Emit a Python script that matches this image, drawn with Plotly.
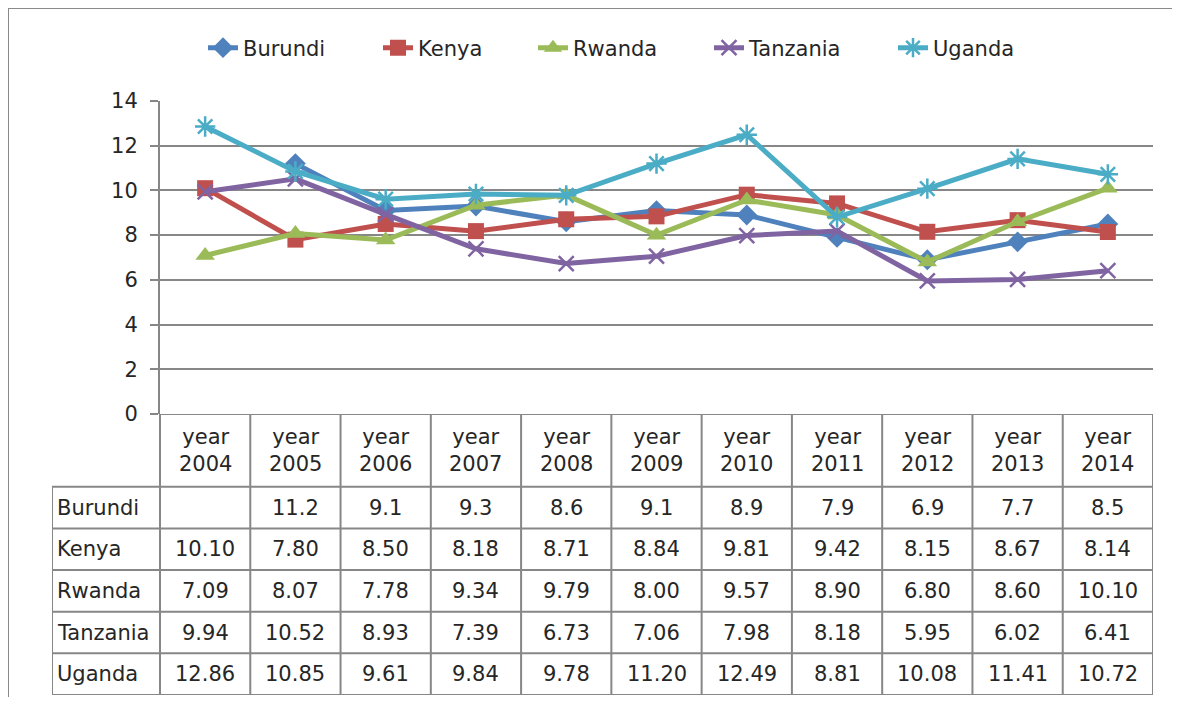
import plotly.graph_objects as go

categories = ["year 2004", "year 2005", "year 2006", "year 2007", "year 2008", "year 2009",
              "year 2010", "year 2011", "year 2012", "year 2013", "year 2014"]
series_names = ["Burundi", "Kenya", "Rwanda", "Tanzania", "Uganda"]
burundi = [None, 11.2, 9.1, 9.3, 8.6, 9.1, 8.9, 7.9, 6.9, 7.7, 8.5]
kenya = [10.10, 7.80, 8.50, 8.18, 8.71, 8.84, 9.81, 9.42, 8.15, 8.67, 8.14]
rwanda = [7.09, 8.07, 7.78, 9.34, 9.79, 8.00, 9.57, 8.90, 6.80, 8.60, 10.10]
tanzania = [9.94, 10.52, 8.93, 7.39, 6.73, 7.06, 7.98, 8.18, 5.95, 6.02, 6.41]
uganda = [12.86, 10.85, 9.61, 9.84, 9.78, 11.20, 12.49, 8.81, 10.08, 11.41, 10.72]
decimals = [1, 2, 2, 2, 2]
y_ticks = [0, 2, 4, 6, 8, 10, 12, 14]

series_values = [burundi, kenya, rwanda, tanzania, uganda]
colors = ["#4F81BD", "#C0504D", "#9BBB59", "#8064A2", "#4BACC6"]
symbols = ["diamond", "square", "triangle-up", "x-thin-open", "asterisk-open"]
msizes = [16, 16, 17, 15, 17]
legend_text_left = [243, 418, 573, 749, 933]

OFF = 8                      # page body margin
W, H = 1180 - 2 * OFF, 705 - 2 * OFF
FONT = "DejaVu Sans"
TXT = "#262626"
GRID = "#878787"


def px_x(p):
    return (p - OFF) / W


def px_y(p):
    return 1 - (p - OFF) / H


n = len(categories)
xi = list(range(n))
plot_left, plot_right, plot_top, plot_bottom = 160, 1153, 101, 414
label_left, table_bottom = 52, 695
col_w = (plot_right - plot_left) / n
label_cols = (plot_left - label_left) / col_w
header_rows = 1.75
nrows = len(series_names)

fig = go.Figure()
legend_names = ["legend", "legend2", "legend3", "legend4", "legend5"]
for name, vals, c, s, ms, lg in zip(series_names, series_values, colors, symbols, msizes, legend_names):
    open_sym = s.endswith("open")
    fig.add_trace(go.Scatter(
        x=xi, y=vals, name=name, mode="lines+markers", legend=lg,
        line=dict(color=c, width=5),
        marker=dict(symbol=s, size=ms, color=c,
                    line=dict(color=c, width=2.5 if open_sym else 0)),
        connectgaps=False,
    ))

fig.add_trace(go.Scatter(x=[None], y=[None], xaxis="x2", yaxis="y2", showlegend=False))

shapes = []
shapes.append(dict(type="rect", xref="paper", yref="paper",
                   x0=px_x(8), x1=px_x(1200), y0=px_y(730), y1=px_y(8),
                   line=dict(color="#8a8a8a", width=2), layer="below"))
for k in range(n + 1):
    b = k - 0.5
    shapes.append(dict(type="line", xref="x2", yref="y2", x0=b, x1=b,
                       y0=-header_rows, y1=nrows, line=dict(color=GRID, width=2)))
shapes.append(dict(type="line", xref="x2", yref="y2", x0=-0.5 - label_cols, x1=-0.5 - label_cols,
                   y0=0, y1=nrows, line=dict(color=GRID, width=2)))
for r in range(nrows + 1):
    shapes.append(dict(type="line", xref="x2", yref="y2", x0=-0.5 - label_cols, x1=n - 0.5,
                       y0=r, y1=r, line=dict(color=GRID, width=2)))
shapes.append(dict(type="line", xref="x2", yref="y2", x0=-0.5, x1=n - 0.5,
                   y0=-header_rows, y1=-header_rows, line=dict(color=GRID, width=2)))

TF = 21
annotations = []
for k, cat in enumerate(categories):
    annotations.append(dict(xref="x2", yref="y2", x=k, y=-header_rows / 2,
                            text=cat.replace(" ", "<br>"), showarrow=False,
                            font=dict(family=FONT, size=TF, color=TXT), align="center"))
for r, (name, vals, d) in enumerate(zip(series_names, series_values, decimals)):
    annotations.append(dict(xref="x2", yref="y2", x=-0.5 - label_cols + 0.03, y=r + 0.5,
                            text=name, showarrow=False, xanchor="left",
                            font=dict(family=FONT, size=TF, color=TXT)))
    for k, v in enumerate(vals):
        if v is None:
            continue
        annotations.append(dict(xref="x2", yref="y2", x=k, y=r + 0.5,
                                text=f"{v:.{d}f}", showarrow=False,
                                font=dict(family=FONT, size=TF, color=TXT)))

layout_legends = {}
for lg, tx in zip(legend_names, legend_text_left):
    layout_legends[lg] = dict(orientation="h", x=px_x(tx - 40), y=px_y(48),
                              xanchor="left", yanchor="middle",
                              font=dict(family=FONT, size=21, color=TXT),
                              bgcolor="rgba(0,0,0,0)", borderwidth=0)

fig.update_layout(
    width=W, height=H, margin=dict(l=0, r=0, t=0, b=0, autoexpand=False),
    paper_bgcolor="white", plot_bgcolor="white",
    font=dict(family=FONT, size=20, color=TXT),
    xaxis=dict(domain=[px_x(plot_left), px_x(plot_right)], range=[-0.5, n - 0.5],
               showticklabels=False, showgrid=False, zeroline=False, ticks="",
               fixedrange=True),
    yaxis=dict(domain=[px_y(plot_bottom), px_y(plot_top)], range=[0, 14],
               tickvals=y_ticks, showgrid=True, gridcolor=GRID, gridwidth=2,
               zeroline=False, showline=True, linecolor=GRID, linewidth=2,
               ticks="outside", ticklen=8, tickcolor=GRID, tickwidth=2,
               ticklabelstandoff=8, tickfont=dict(family=FONT, size=21, color=TXT)),
    xaxis2=dict(domain=[px_x(label_left), px_x(plot_right)],
                range=[-0.5 - label_cols, n - 0.5], visible=False, anchor="y2"),
    yaxis2=dict(domain=[px_y(table_bottom), px_y(plot_bottom)],
                range=[nrows, -header_rows], visible=False, anchor="x2"),
    shapes=shapes, annotations=annotations,
    showlegend=True,
    **layout_legends,
)

fig.write_html("out.html")
